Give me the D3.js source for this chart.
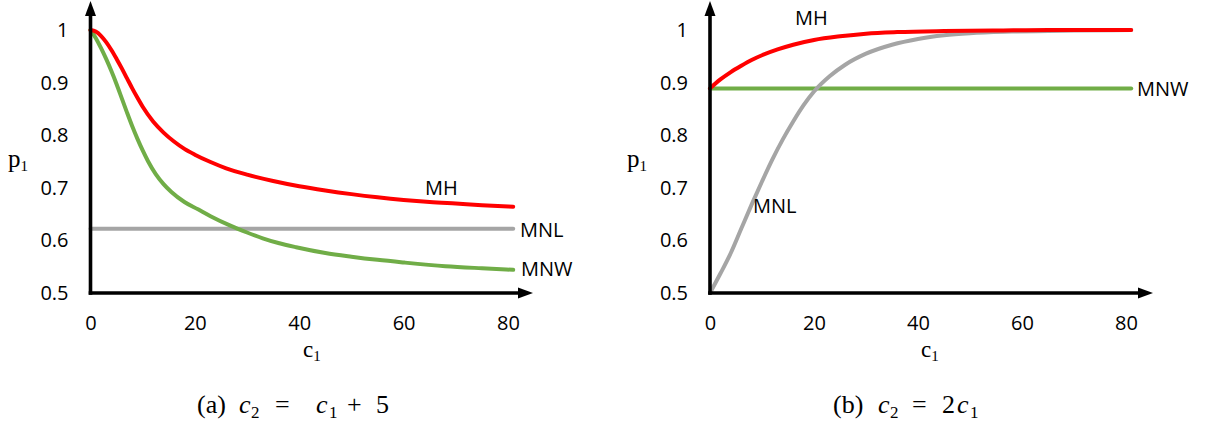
<!DOCTYPE html>
<html>
<head>
<meta charset="utf-8">
<script src="https://cdn.jsdelivr.net/npm/d3@7"></script>
<style>
  html, body { margin: 0; padding: 0; background: #fff; }
  svg { display: block; }
  .tick text { font-family: "Open Sans", sans-serif; font-size: 20px; fill: #000; }
  .series-label { font-family: "Open Sans", sans-serif; font-size: 20px; fill: #000; }
  .math { font-family: "Liberation Serif", "Times New Roman", serif; fill: #000; }
</style>
</head>
<body>
<svg id="chart" width="1207" height="425"></svg>
<script>
// Tick values shared by both panels
const xTicks = [0, 20, 40, 60, 80];
const yTicks = [0.5, 0.6, 0.7, 0.8, 0.9, 1];
const yTickLabels = ["0.5", "0.6", "0.7", "0.8", "0.9", "1"];

// Panel (a): c2 = c1 + 5
const aMH_c  = [0, 1, 2, 3, 4, 5, 6, 7, 8, 9, 10, 12, 14, 16, 18, 20, 23, 26, 30, 35, 40, 45, 50, 55, 60, 65, 70, 75, 81];
const aMH_p  = [1.0, 0.997, 0.989, 0.977, 0.962, 0.945, 0.927, 0.908, 0.889, 0.871, 0.854, 0.826, 0.805, 0.788, 0.774,
                0.763, 0.749, 0.737, 0.725, 0.713, 0.703, 0.695, 0.688, 0.682, 0.677, 0.673, 0.670, 0.667, 0.664];
const aMNL_c = [0, 81];
const aMNL_p = [0.622, 0.622];
const aMNW_c = [0, 1, 2, 3, 4, 5, 6, 7, 8, 9, 10, 11, 12.5, 14, 15.5, 18, 20.6, 23, 26.8, 30, 33, 36, 39.4, 45, 50, 55, 60, 68, 75, 81];
const aMNW_p = [1.0, 0.985, 0.966, 0.945, 0.922, 0.897, 0.870, 0.843, 0.817, 0.793, 0.771, 0.751, 0.726, 0.707, 0.692,
                0.673, 0.659, 0.646, 0.628, 0.615, 0.604, 0.595, 0.587, 0.576, 0.569, 0.563, 0.558, 0.551, 0.547, 0.544];

// Panel (b): c2 = 2 c1
const bMH_c  = [0, 2, 4, 6, 8, 10, 13, 16, 20, 25, 30, 36, 45, 55, 65, 81];
const bMH_p  = [0.889, 0.906, 0.920, 0.932, 0.943, 0.952, 0.963, 0.972, 0.981, 0.988, 0.993, 0.996, 0.998, 0.999, 1.0, 1.0];
const bMNL_c = [0, 2, 4, 6, 8, 10, 12, 14, 16, 18, 20, 23, 26, 30, 35, 40, 45, 50, 58, 70, 81];
const bMNL_p = [0.5, 0.537, 0.576, 0.622, 0.668, 0.712, 0.754, 0.792, 0.826, 0.857, 0.883, 0.912, 0.934, 0.955,
                0.972, 0.983, 0.990, 0.994, 0.997, 0.999, 1.0];
const bMNW_c = [0, 81];
const bMNW_p = [0.889, 0.889];

const seriesColors = { MH: "#ff0000", MNL: "#a5a5a5", MNW: "#70ad47" };

const zip = (cs, ps) => cs.map((c, i) => ({ c, p: ps[i] }));

// Layout of the two panels (pixel geometry only)
const panels = [
  {
    xRange: [90.5, 508], yRange: [293, 30], arrowX: 533, arrowY: 1,
    series: [
      { name: "MNL", data: zip(aMNL_c, aMNL_p) },
      { name: "MNW", data: zip(aMNW_c, aMNW_p) },
      { name: "MH",  data: zip(aMH_c,  aMH_p) }
    ],
    labels: [
      { text: "MH",  x: 425, y: 195 },
      { text: "MNL", x: 520, y: 237 },
      { text: "MNW", x: 521, y: 276 }
    ],
    pLabel: { x: 8, y: 167 },
    cLabel: { x: 303, y: 356.5 }
  },
  {
    xRange: [710, 1126], yRange: [293, 30], arrowX: 1153, arrowY: 1,
    series: [
      { name: "MNW", data: zip(bMNW_c, bMNW_p) },
      { name: "MNL", data: zip(bMNL_c, bMNL_p) },
      { name: "MH",  data: zip(bMH_c,  bMH_p) }
    ],
    labels: [
      { text: "MH",  x: 795, y: 25 },
      { text: "MNW", x: 1137, y: 96 },
      { text: "MNL", x: 753, y: 213 }
    ],
    pLabel: { x: 627, y: 167 },
    cLabel: { x: 921, y: 356.5 }
  }
];

const svg = d3.select("#chart");

panels.forEach(panel => {
  const x = d3.scaleLinear().domain([0, 80]).range(panel.xRange);
  const y = d3.scaleLinear().domain([0.5, 1]).range(panel.yRange);
  const g = svg.append("g");

  const x0 = x(0), y0 = y(0.5);

  // Tick labels (no tick marks, no domain line)
  const xAxis = g.append("g")
    .attr("transform", `translate(0,${y0})`)
    .call(d3.axisBottom(x).tickValues(xTicks).tickSize(0).tickPadding(23).tickFormat(d3.format("d")));
  xAxis.select(".domain").remove();

  const yAxis = g.append("g")
    .attr("transform", `translate(${x0},0)`)
    .call(d3.axisLeft(y).tickValues(yTicks).tickSize(0).tickPadding(22)
      .tickFormat((d, i) => yTickLabels[i]));
  yAxis.select(".domain").remove();

  // Series lines
  const line = d3.line()
    .x(d => x(d.c))
    .y(d => y(d.p))
    .curve(d3.curveMonotoneX);

  panel.series.forEach(s => {
    g.append("path")
      .datum(s.data)
      .attr("fill", "none")
      .attr("stroke", seriesColors[s.name])
      .attr("stroke-width", 4)
      .attr("stroke-linecap", "round")
      .attr("stroke-linejoin", "round")
      .attr("d", line);
  });

  // Axes with arrowheads
  const aw = 3.6, headLen = 15, headHalf = 5.5;
  g.append("line")
    .attr("x1", x0 - aw / 2).attr("x2", panel.arrowX - headLen + 1)
    .attr("y1", y0).attr("y2", y0)
    .attr("stroke", "#000").attr("stroke-width", aw);
  g.append("path")
    .attr("d", `M${panel.arrowX},${y0} L${panel.arrowX - headLen},${y0 - headHalf} L${panel.arrowX - headLen},${y0 + headHalf} Z`)
    .attr("fill", "#000");
  g.append("line")
    .attr("x1", x0).attr("x2", x0)
    .attr("y1", y0 + aw / 2).attr("y2", panel.arrowY + headLen - 1)
    .attr("stroke", "#000").attr("stroke-width", aw);
  g.append("path")
    .attr("d", `M${x0},${panel.arrowY} L${x0 - headHalf},${panel.arrowY + headLen} L${x0 + headHalf},${panel.arrowY + headLen} Z`)
    .attr("fill", "#000");

  // Series labels
  panel.labels.forEach(l => {
    g.append("text")
      .attr("class", "series-label")
      .attr("x", l.x).attr("y", l.y)
      .text(l.text);
  });

  // Axis titles: p1 and c1
  const pt = g.append("text").attr("class", "math")
    .attr("x", panel.pLabel.x).attr("y", panel.pLabel.y)
    .style("font-size", "25px");
  pt.append("tspan").text("p");
  pt.append("tspan").attr("dy", 4).style("font-size", "15px").text("1");

  const ct = g.append("text").attr("class", "math")
    .attr("x", panel.cLabel.x).attr("y", panel.cLabel.y)
    .style("font-size", "23px");
  ct.append("tspan").text("c");
  ct.append("tspan").attr("dy", 4).style("font-size", "15px").text("1");
});

// Panel captions, set piece by piece like a typeset formula
function caption(parts) {
  parts.forEach(p => {
    svg.append("text").attr("class", "math")
      .attr("x", p.x)
      .attr("y", p.sub ? 418 : 413)
      .style("font-size", p.sub ? "17px" : "26px")
      .style("font-style", p.i ? "italic" : "normal")
      .text(p.t);
  });
}
caption([
  { t: "(a)", x: 197 },
  { t: "c", x: 239, i: true }, { t: "2", x: 251, sub: true },
  { t: "=", x: 275 },
  { t: "c", x: 316, i: true }, { t: "1", x: 329, sub: true },
  { t: "+", x: 347 },
  { t: "5", x: 376 }
]);
caption([
  { t: "(b)", x: 833 },
  { t: "c", x: 878, i: true }, { t: "2", x: 890, sub: true },
  { t: "=", x: 912 },
  { t: "2", x: 942 },
  { t: "c", x: 957, i: true }, { t: "1", x: 970, sub: true }
]);
</script>
</body>
</html>
